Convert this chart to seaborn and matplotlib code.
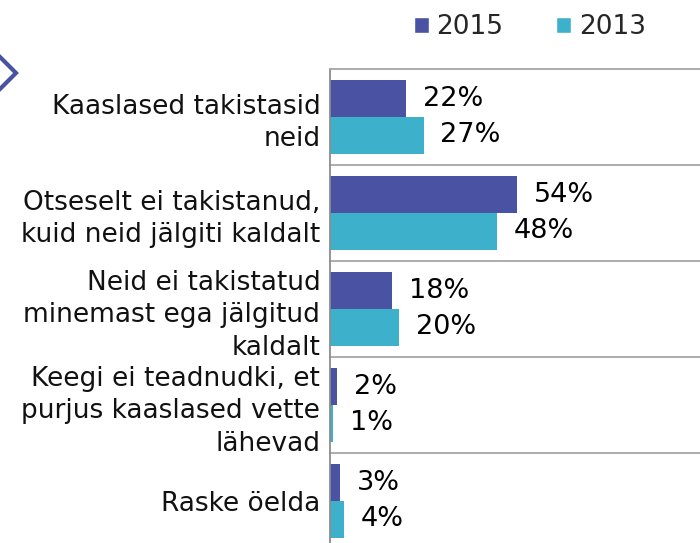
import pandas as pd
import matplotlib.pyplot as plt
import seaborn as sns
from matplotlib.patches import Patch
from matplotlib.lines import Line2D

# Survey answers (share of respondents, %)
categories = [
    "Kaaslased takistasid\nneid",
    "Otseselt ei takistanud,\nkuid neid jälgiti kaldalt",
    "Neid ei takistatud\nminemast ega jälgitud\nkaldalt",
    "Keegi ei teadnudki, et\npurjus kaaslased vette\nlähevad",
    "Raske öelda",
]
years = ["2015", "2013"]
values_2015 = [22, 54, 18, 2, 3]
values_2013 = [27, 48, 20, 1, 4]

colors = {"2015": "#4A52A4", "2013": "#3DB1CC"}

df = pd.DataFrame({
    "answer": categories * 2,
    "year": ["2015"] * len(categories) + ["2013"] * len(categories),
    "value": values_2015 + values_2013,
})

sns.set_style("white")
plt.rcParams['font.family'] = ['DejaVu Sans']

fig = plt.figure(figsize=(7, 5.43), dpi=100)
ax = fig.add_axes([330 / 700, 1 - 549 / 543, 370 / 700, 480 / 543])

sns.barplot(data=df, y="answer", x="value", hue="year", hue_order=years,
            palette=colors, orient="h", width=0.77, gap=0, ax=ax,
            legend=False, errorbar=None, saturation=1, linewidth=0)

# Percent labels
for container in ax.containers:
    ax.bar_label(container, labels=[f"{v:.0f}%" for v in container.datavalues],
                 padding=12, fontsize=19.5, color="#000000")

ax.set_xlim(0, 106.6)
ax.set_ylim(4.5, -0.5)
ax.set_xlabel("")
ax.set_ylabel("")
ax.set_xticks([])
ax.tick_params(axis="y", length=0, pad=7, labelsize=19, labelcolor="#111111")
for lab in ax.get_yticklabels():
    lab.set_linespacing(1.32)

# separators between groups
for b in [0.5, 1.5, 2.5, 3.5]:
    ax.axhline(b, color="#A6A6A6", lw=1.3)

for s in ["right", "bottom"]:
    ax.spines[s].set_visible(False)
ax.spines["top"].set_color("#A6A6A6")
ax.spines["top"].set_linewidth(1.3)
ax.spines["left"].set_color("#8C8C8C")
ax.spines["left"].set_linewidth(1.3)

handles = [Patch(facecolor=colors[y], label=y) for y in years]
fig.legend(handles=handles, loc="center", bbox_to_anchor=(530 / 700, 1 - 27 / 543),
           ncol=2, frameon=False, fontsize=19, handlelength=0.55, handleheight=0.55,
           handletextpad=0.3, columnspacing=2.0, borderaxespad=0)

# decorative chevron at the top left
fig.add_artist(Line2D([-6 / 700, 16 / 700, -6 / 700],
                      [1 - 51 / 543, 1 - 73 / 543, 1 - 95 / 543],
                      transform=fig.transFigure, color="#4A52A4", lw=3,
                      solid_joinstyle="miter"))

fig.savefig("out.png", dpi=100)
